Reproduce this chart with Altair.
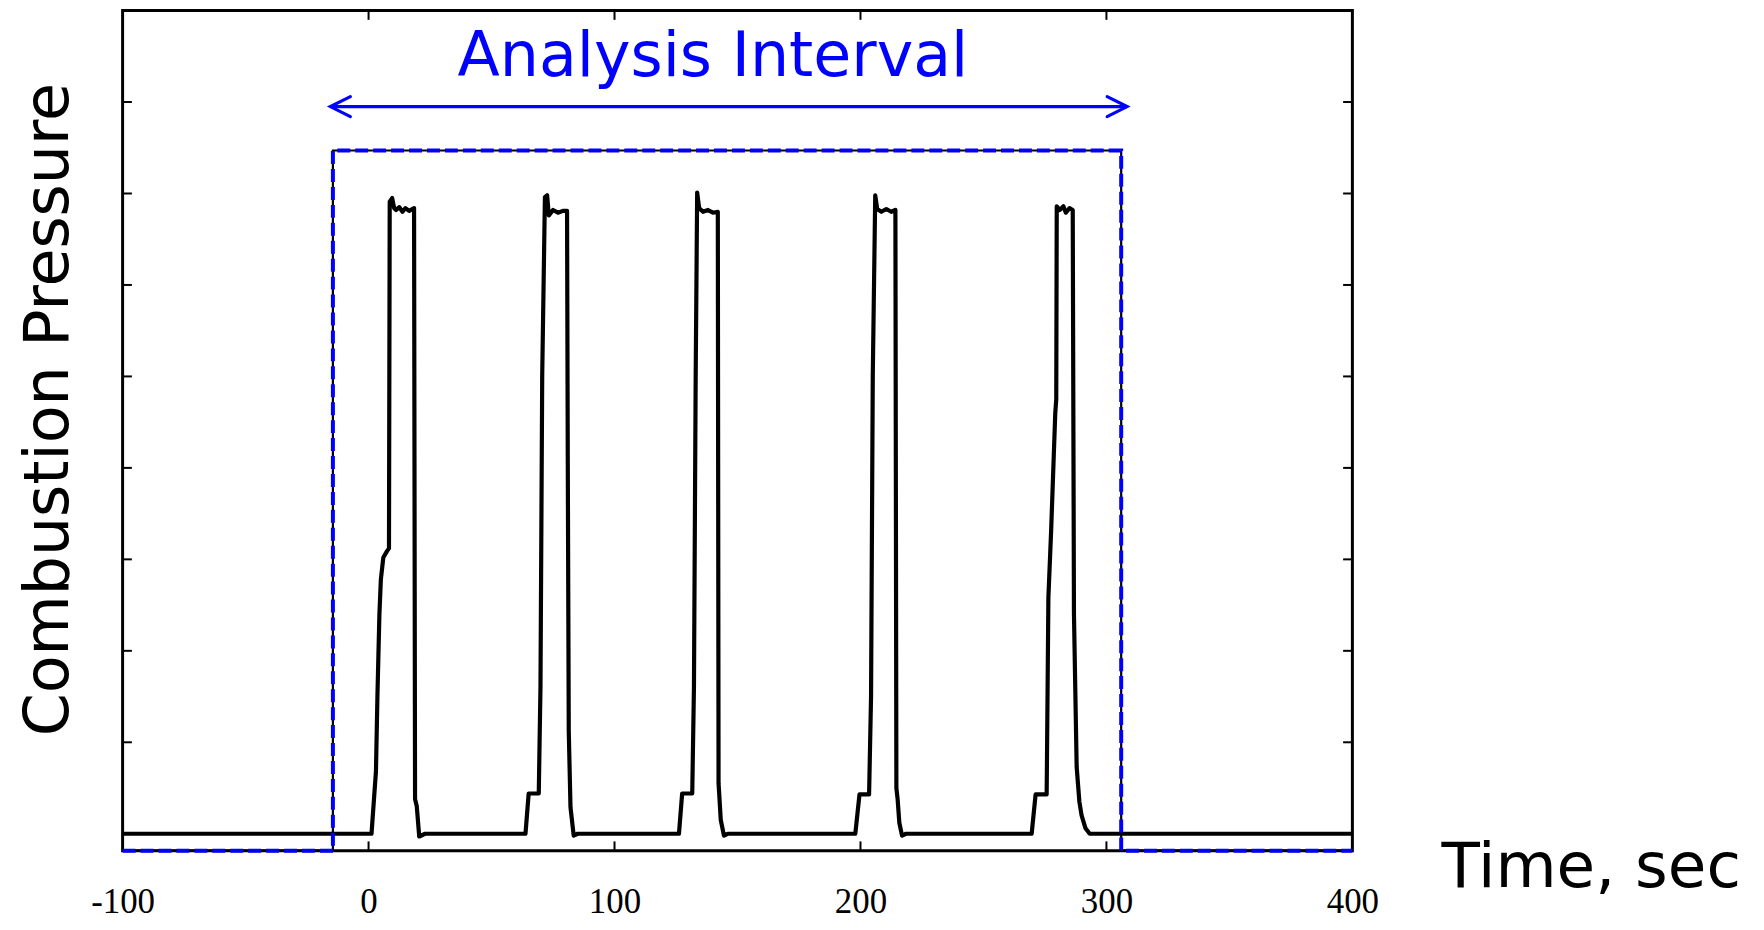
import altair as alt
import pandas as pd

# ---------------- data ----------------
pulse1_t = [-100.0, 1.2, 3.0, 3.6, 4.4, 5.0, 6.0, 7.5, 8.3, 8.6, 9.6, 10.4, 11.2, 12.5, 13.8, 15.0, 16.5, 18.5, 18.9, 19.6, 20.6, 23.0]
pulse1_p = [0.0, 0.0, 0.68, 1.5, 2.39, 2.78, 3.02, 3.09, 3.12, 6.91, 6.95, 6.84, 6.82, 6.85, 6.80, 6.84, 6.81, 6.84, 0.38, 0.30, -0.03, 0.0]
pulse2_t = [63.8, 65.1, 69.2, 69.9, 70.6, 71.7, 72.6, 73.3, 75.0, 77.0, 79.0, 80.7, 81.0, 81.4, 82.1, 83.4, 85.0]
pulse2_p = [0.0, 0.44, 0.44, 1.61, 5.01, 6.96, 6.98, 6.76, 6.82, 6.79, 6.81, 6.81, 4.04, 1.12, 0.29, -0.02, 0.0]
pulse3_t = [126.2, 127.5, 131.6, 132.3, 133.0, 133.6, 134.4, 136.0, 138.0, 140.0, 142.0, 142.3, 142.6, 143.2, 144.5, 146.0]
pulse3_p = [0.0, 0.44, 0.44, 1.61, 5.0, 7.01, 6.84, 6.80, 6.82, 6.79, 6.80, 0.55, 0.42, 0.15, -0.02, 0.0]
pulse4_t = [197.9, 199.6, 203.5, 204.3, 205.0, 206.0, 206.8, 208.5, 210.5, 212.5, 214.2, 214.6, 215.1, 215.8, 216.9, 218.5]
pulse4_p = [0.0, 0.43, 0.43, 1.5, 5.0, 6.98, 6.83, 6.80, 6.83, 6.80, 6.82, 0.5, 0.38, 0.12, -0.02, 0.0]
pulse5_t = [269.6, 271.2, 275.7, 276.4, 277.5, 279.2, 279.6, 279.8, 281.0, 282.5, 283.5, 285.0, 286.3, 286.8, 287.9, 289.0, 289.9, 291.5, 293.2, 400.0]
pulse5_p = [0.0, 0.43, 0.43, 2.58, 3.3, 4.6, 4.75, 6.86, 6.82, 6.86, 6.79, 6.84, 6.82, 2.4, 0.73, 0.35, 0.2, 0.06, 0.0, 0.0]

# analysis window (blue dashed box)
window_t = [-100.0, -14.5, -14.5, 306.0, 306.0, 400.0]
window_p = [-0.185, -0.185, 7.47, 7.47, -0.185, -0.185]

# arrow and its label
arrow_t = [-15.5, 308.4]
arrow_p = [7.95, 7.95]
label_t = [140.0]
label_p = [8.28]
label_text = ["Analysis Interval"]

# axes
x_domain = [-100, 400]
y_domain = [-0.185, 9]
x_label_values = [-100, 0, 100, 200, 300, 400]
x_tick_values = [0, 100, 200, 300]
y_tick_values = [0, 1, 2, 3, 4, 5, 6, 7, 8]

# ---------------- layout ----------------
W, H = 1234, 843
TICK_PX = 9.3
tick_dx = TICK_PX * (x_domain[1] - x_domain[0]) / W
tick_dy = TICK_PX * (y_domain[1] - y_domain[0]) / H

BLUE = "#0000FF"

trace_t = pulse1_t + pulse2_t + pulse3_t + pulse4_t + pulse5_t
trace_p = pulse1_p + pulse2_p + pulse3_p + pulse4_p + pulse5_p
trace_df = pd.DataFrame({"t": trace_t, "p": trace_p, "i": list(range(len(trace_t)))})
window_df = pd.DataFrame({"t": window_t, "p": window_p, "i": list(range(len(window_t)))})
arrow_df = pd.DataFrame({"t": arrow_t, "p": arrow_p})
label_df = pd.DataFrame({"t": label_t, "p": label_p, "txt": label_text})

xs = alt.Scale(domain=x_domain, nice=False, zero=False)
ys = alt.Scale(domain=y_domain, nice=False, zero=False)

x_axis = alt.Axis(
    values=x_label_values, labelExpr="'' + datum.value",
    labelFont="Liberation Serif", labelFontSize=35, labelColor="black",
    labelPadding=62, labelBaseline="alphabetic", labelFlush=False, labelOverlap=False,
    ticks=False, tickSize=0, domain=False, grid=False,
    title="Time, sec", titleFont="DejaVu Sans", titleFontSize=63, titleFontWeight="normal",
    titleColor="black", titleX=1323, titleY=36, titleAlign="left", titleBaseline="alphabetic",
)
y_axis = alt.Axis(
    labels=False, ticks=False, domain=False, grid=False,
    title="Combustion Pressure", titleFont="DejaVu Sans", titleFontSize=62, titleFontWeight="normal",
    titleColor="black", titleAngle=270, titleX=-55, titleY=400, titleAlign="center",
    titleBaseline="alphabetic",
)


def xq(f="t"):
    return alt.X(f"{f}:Q", scale=xs, axis=x_axis, title="Time, sec")


def yq(f="p"):
    return alt.Y(f"{f}:Q", scale=ys, axis=y_axis, title="Combustion Pressure")


trace = alt.Chart(trace_df).mark_line(color="black", strokeWidth=4.2, strokeJoin="round").encode(
    x=xq(), y=yq(), order="i:Q",
)

window_black = alt.Chart(window_df).mark_line(color="black", strokeWidth=2.2).encode(
    x=xq(), y=yq(), order="i:Q")
window_blue = alt.Chart(window_df).mark_line(color=BLUE, strokeWidth=4, strokeDash=[13, 5]).encode(
    x=xq(), y=yq(), order="i:Q")

arrow_line = alt.Chart(arrow_df).mark_line(color=BLUE, strokeWidth=3.2).encode(x=xq(), y=yq())
head_left = alt.Chart(arrow_df.iloc[[0]]).mark_point(
    shape="M 1 -0.5 L 0 0 L 1 0.5", filled=False, size=1600, strokeWidth=3.2,
    color=BLUE, opacity=1, strokeCap="round").encode(x=xq(), y=yq())
head_right = alt.Chart(arrow_df.iloc[[1]]).mark_point(
    shape="M -1 -0.5 L 0 0 L -1 0.5", filled=False, size=1600, strokeWidth=3.2,
    color=BLUE, opacity=1, strokeCap="round").encode(x=xq(), y=yq())

label = alt.Chart(label_df).mark_text(
    font="DejaVu Sans", fontSize=62, color=BLUE, align="center", baseline="alphabetic"
).encode(x=xq(), y=yq(), text="txt:N")

# inward tick marks on all four sides
bottom_ticks = pd.DataFrame({"t": x_tick_values, "p": [y_domain[0]] * len(x_tick_values),
                             "p2": [y_domain[0] + tick_dy] * len(x_tick_values)})
top_ticks = pd.DataFrame({"t": x_tick_values, "p": [y_domain[1]] * len(x_tick_values),
                          "p2": [y_domain[1] - tick_dy] * len(x_tick_values)})
left_ticks = pd.DataFrame({"p": y_tick_values, "t": [x_domain[0]] * len(y_tick_values),
                           "t2": [x_domain[0] + tick_dx] * len(y_tick_values)})
right_ticks = pd.DataFrame({"p": y_tick_values, "t": [x_domain[1]] * len(y_tick_values),
                            "t2": [x_domain[1] - tick_dx] * len(y_tick_values)})


def vticks(df):
    return alt.Chart(df).mark_rule(color="black", strokeWidth=2).encode(
        x=xq(), y=yq(), y2="p2:Q")


def hticks(df):
    return alt.Chart(df).mark_rule(color="black", strokeWidth=2).encode(
        x=xq(), x2="t2:Q", y=yq())


chart = alt.layer(
    trace,
    vticks(bottom_ticks), vticks(top_ticks), hticks(left_ticks), hticks(right_ticks),
    window_black, window_blue, arrow_line, head_left, head_right, label,
).properties(
    width=W, height=H,
    autosize=alt.AutoSizeParams(type="none"),
    padding={"left": 115, "top": 1, "right": 405, "bottom": 70},
).configure_view(stroke="black", strokeWidth=3)

chart.save("out.html", embed_options={"renderer": "svg", "actions": False})
